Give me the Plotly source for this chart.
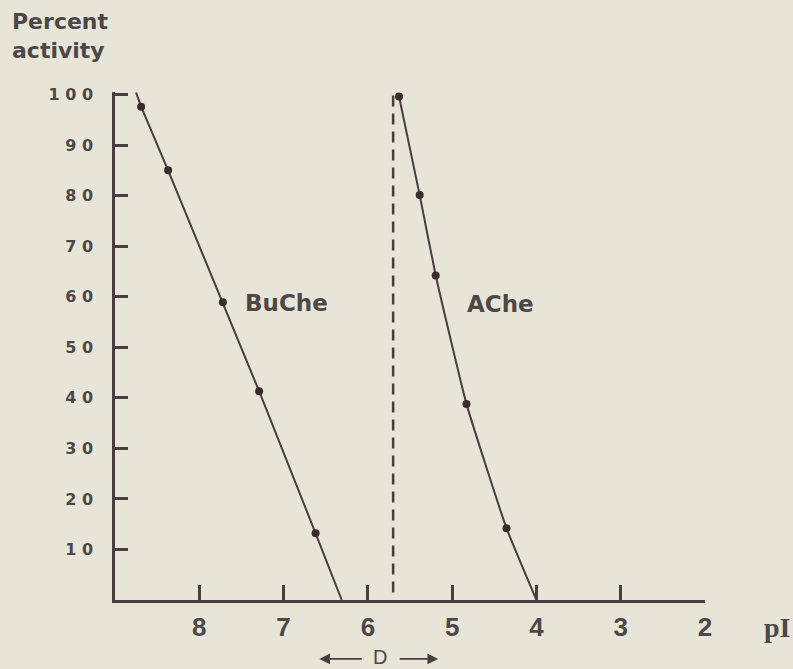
import plotly.graph_objects as go

# ---- data ----
buche_pI = [8.69, 8.37, 7.72, 7.29, 6.62]
buche_pct = [97.6, 85.0, 58.9, 41.3, 13.2]
buche_line_pI = [8.75, 8.69, 8.37, 7.72, 7.29, 6.62, 6.31]
buche_line_pct = [100.4, 97.6, 85.0, 58.9, 41.3, 13.2, 0.0]

ache_pI = [5.63, 5.385, 5.195, 4.83, 4.355]
ache_pct = [99.6, 80.1, 64.2, 38.8, 14.2]
ache_line_pI = [5.63, 5.385, 5.195, 4.83, 4.355, 4.0]
ache_line_pct = [99.6, 80.1, 64.2, 38.8, 14.2, 0.0]

dash_pI = [5.7, 5.7]
dash_pct = [1.5, 100.5]

x_ticks = [8, 7, 6, 5, 4, 3, 2]
x_ticktext = ["<b>8</b>", "<b>7</b>", "<b>6</b>", "<b>5</b>", "<b>4</b>", "<b>3</b>", "<b>2</b>"]
y_ticks = [10, 20, 30, 40, 50, 60, 70, 80, 90, 100]
y_ticktext = ["<b>1 0</b>", "<b>2 0</b>", "<b>3 0</b>", "<b>4 0</b>", "<b>5 0</b>",
              "<b>6 0</b>", "<b>7 0</b>", "<b>8 0</b>", "<b>9 0</b>", "<b>1 0 0</b>"]

INK = "#4a3d3d"
TXT = "#4e4747"
BG = "#e7e5d8"
WIDE = "DejaVu Sans"
NARROW = "Liberation Sans Narrow, Liberation Sans"

fig = go.Figure()
fig.add_trace(go.Scatter(x=buche_line_pI, y=buche_line_pct, mode="lines",
                         line=dict(color=INK, width=2), showlegend=False, hoverinfo="skip"))
fig.add_trace(go.Scatter(x=buche_pI, y=buche_pct, mode="markers",
                         marker=dict(color="#3a2c2c", size=8), showlegend=False))
fig.add_trace(go.Scatter(x=ache_line_pI, y=ache_line_pct, mode="lines",
                         line=dict(color=INK, width=2, shape="spline", smoothing=0.4),
                         showlegend=False, hoverinfo="skip"))
fig.add_trace(go.Scatter(x=ache_pI, y=ache_pct, mode="markers",
                         marker=dict(color="#3a2c2c", size=8), showlegend=False))
fig.add_trace(go.Scatter(x=dash_pI, y=dash_pct, mode="lines",
                         line=dict(color=INK, width=2.5, dash="11px,7px"),
                         showlegend=False, hoverinfo="skip"))

fig.update_layout(
    width=793, height=669,
    margin=dict(l=115, r=88, t=92, b=69),
    paper_bgcolor=BG, plot_bgcolor=BG,
    font=dict(family=WIDE, color=TXT),
    xaxis=dict(range=[9, 2], autorange=False, showgrid=False, zeroline=False,
               showline=True, linecolor=INK, linewidth=2.5,
               ticks="inside", ticklen=15, tickwidth=2.5, tickcolor=INK,
               tickvals=x_ticks, ticktext=x_ticktext,
               tickfont=dict(family=NARROW, size=26, color=TXT),
               ticklabelstandoff=2),
    yaxis=dict(range=[0, 100.5], autorange=False, showgrid=False, zeroline=False,
               showline=True, linecolor=INK, linewidth=2.5,
               ticks="inside", ticklen=13, tickwidth=3, tickcolor=INK,
               tickvals=y_ticks, ticktext=y_ticktext,
               tickfont=dict(family=WIDE, size=16, color=TXT),
               ticklabelstandoff=16),
)

annos = [
    dict(text="<b>Percent<br>activity</b>", x=-0.178, y=1.168, xref="paper", yref="paper",
         xanchor="left", yanchor="top", align="left", showarrow=False,
         font=dict(family=WIDE, size=22, color=TXT)),
    dict(text="<b>BuChe</b>", x=6.97, y=58.7, xref="x", yref="y", showarrow=False,
         xanchor="center", yanchor="middle",
         font=dict(family=WIDE, size=23, color=TXT)),
    dict(text="<b>AChe</b>", x=4.43, y=58.5, xref="x", yref="y", showarrow=False,
         xanchor="center", yanchor="middle",
         font=dict(family=WIDE, size=23, color=TXT)),
    dict(text="<b>pI</b>", x=1.122, y=-0.055, xref="paper", yref="paper", showarrow=False,
         xanchor="center", yanchor="middle",
         font=dict(family="Liberation Serif", size=28, color=TXT)),
    dict(text="D", x=5.86, y=-0.112, xref="x", yref="paper", showarrow=False,
         xanchor="center", yanchor="middle",
         font=dict(family="Liberation Sans", size=20, color=TXT)),
    dict(text="", x=6.577, y=-0.116, xref="x", yref="paper", showarrow=True,
         ax=44, ay=0, arrowhead=2, arrowsize=1.2, arrowwidth=1.8, arrowcolor=INK),
    dict(text="", x=5.165, y=-0.116, xref="x", yref="paper", showarrow=True,
         ax=-40, ay=0, arrowhead=2, arrowsize=1.2, arrowwidth=1.8, arrowcolor=INK),
]
fig.update_layout(annotations=annos)

fig.write_html("out.html")
